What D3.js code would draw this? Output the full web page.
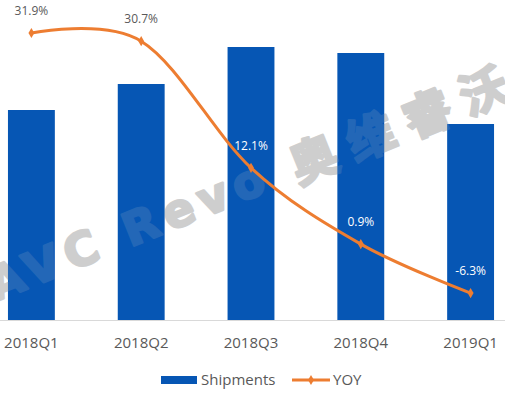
<!DOCTYPE html>
<html>
<head>
<meta charset="utf-8">
<script src="https://cdn.jsdelivr.net/npm/d3@7"></script>
<style>
  body { margin: 0; background: #fff; }
  svg { display: block; font-family: "Open Sans", sans-serif; }
</style>
</head>
<body>
<div id="chart"></div>
<script>
// chart data
var quarters = ['2018Q1', '2018Q2', '2018Q3', '2018Q4', '2019Q1'];
var shipments = [210, 236, 273, 267, 196];
var yoy = [31.9, 30.7, 12.1, 0.9, -6.3];
var yoyLabels = ['31.9%', '30.7%', '12.1%', '0.9%', '-6.3%'];

var svgWidth = 505;
var svgHeight = 396;
var baseline = 320;

var barColor = '#0656B4';
var lineColor = '#ED7D31';
var textColor = '#595959';

var svg = d3.select('#chart')
    .append('svg')
    .attr('width', svgWidth)
    .attr('height', svgHeight);

// band scale runs past the edges, the picture is cropped
var xScale = d3.scaleBand()
    .domain(quarters)
    .range([-23.5, 525.5])
    .paddingInner(0.573)
    .paddingOuter(0.2865);

var yScale = d3.scaleLinear()
    .domain([0, 300])
    .range([baseline, 20]);

var y2Scale = d3.scaleLinear()
    .domain([-10, 35])
    .range([318.3, 11.9]);

// watermark: solid grey behind the bars, faint copy on top of them
function watermark(colour, opacity) {
    var wm = svg.append('g')
        .attr('transform', 'translate(93, 245) rotate(-22)')
        .attr('font-weight', 'bold')
        .attr('fill', colour)
        .attr('stroke', colour)
        .attr('stroke-width', 2.5)
        .attr('stroke-linejoin', 'round')
        .attr('opacity', opacity);

    wm.append('text')
        .attr('x', -112)
        .attr('dominant-baseline', 'central')
        .attr('font-family', '"DejaVu Sans", sans-serif')
        .attr('font-size', 46)
        .attr('textLength', 295)
        .attr('lengthAdjust', 'spacing')
        .text('AVC Revo');

    wm.append('text')
        .attr('x', 213)
        .attr('dominant-baseline', 'central')
        .attr('font-family', '"Noto Sans CJK SC", sans-serif')
        .attr('font-size', 48)
        .attr('textLength', 231)
        .attr('lengthAdjust', 'spacing')
        .text('奥维睿沃');
}

watermark('#d0d0d0', 1);

// bars
svg.selectAll('rect.bar')
    .data(shipments)
    .enter()
    .append('rect')
    .attr('class', 'bar')
    .attr('x', (d, i) => xScale(quarters[i]))
    .attr('y', d => yScale(d))
    .attr('width', xScale.bandwidth())
    .attr('height', d => baseline - yScale(d))
    .attr('fill', barColor);

watermark('#c8c8c8', 0.15);

// x axis
var xAxis = svg.append('g')
    .attr('transform', `translate(0, ${baseline})`)
    .call(d3.axisBottom(xScale).tickSize(0).tickPadding(17));

xAxis.select('.domain').attr('stroke', '#d9d9d9');
xAxis.selectAll('text')
    .attr('font-family', '"Open Sans", sans-serif')
    .attr('font-size', 15)
    .attr('fill', textColor);

// yoy line
var cx = i => xScale(quarters[i]) + xScale.bandwidth() / 2;

var line = d3.line()
    .x((d, i) => cx(i))
    .y(d => y2Scale(d))
    .curve(d3.curveCardinal.tension(0));

svg.append('path')
    .datum(yoy)
    .attr('d', line)
    .attr('fill', 'none')
    .attr('stroke', lineColor)
    .attr('stroke-width', 3)
    .attr('stroke-linecap', 'round');

var diamond = d3.symbol().type(d3.symbolDiamond).size(30);

svg.selectAll('path.marker')
    .data(yoy)
    .enter()
    .append('path')
    .attr('class', 'marker')
    .attr('d', diamond)
    .attr('transform', (d, i) => `translate(${cx(i)}, ${y2Scale(d)})`)
    .attr('fill', lineColor);

// data labels, white when sitting on a bar
svg.selectAll('text.label')
    .data(yoy)
    .enter()
    .append('text')
    .attr('class', 'label')
    .attr('x', (d, i) => cx(i))
    .attr('y', d => y2Scale(d) - 18)
    .attr('text-anchor', 'middle')
    .attr('font-size', 12)
    .attr('fill', (d, i) => y2Scale(d) - 28 > yScale(shipments[i]) ? '#fff' : textColor)
    .text((d, i) => yoyLabels[i]);

// legend
var legend = svg.append('g');

legend.append('rect')
    .attr('x', 161)
    .attr('y', 376)
    .attr('width', 36)
    .attr('height', 8)
    .attr('fill', barColor);

legend.append('text')
    .attr('x', 201)
    .attr('y', 385)
    .attr('font-size', 15)
    .attr('fill', textColor)
    .text('Shipments');

legend.append('line')
    .attr('x1', 292)
    .attr('x2', 330)
    .attr('y1', 380)
    .attr('y2', 380)
    .attr('stroke', lineColor)
    .attr('stroke-width', 3);

legend.append('path')
    .attr('d', diamond)
    .attr('transform', 'translate(311, 380)')
    .attr('fill', lineColor);

legend.append('text')
    .attr('x', 333)
    .attr('y', 385)
    .attr('font-size', 15)
    .attr('fill', textColor)
    .text('YOY');
</script>
</body>
</html>
